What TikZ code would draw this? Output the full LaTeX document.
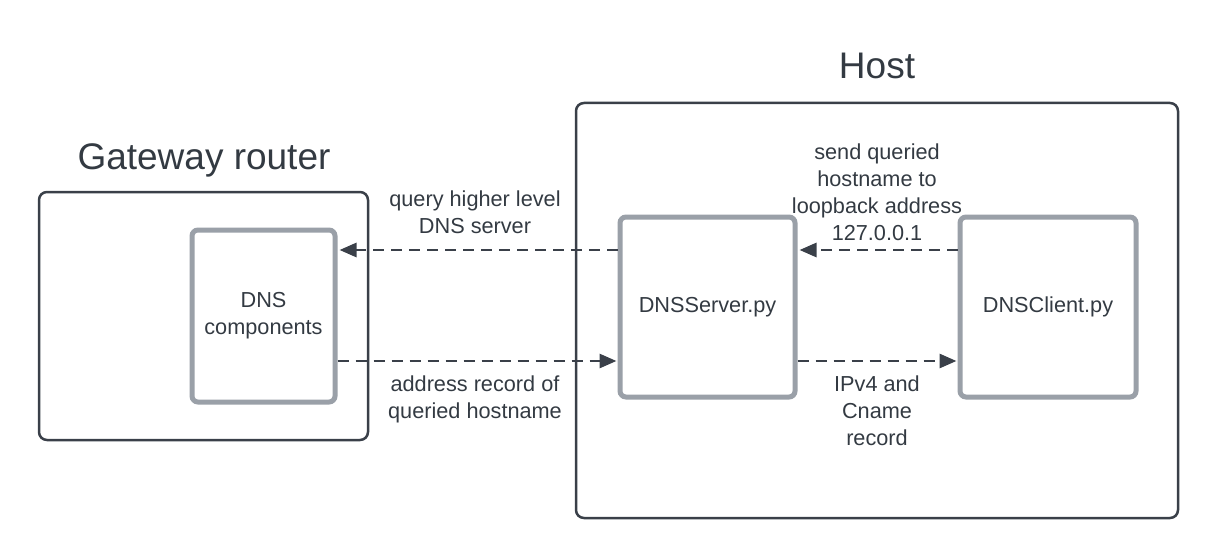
\documentclass[tikz,border=0pt]{standalone}
\usepackage{fontspec}
\setmainfont{Liberation Sans}
\usetikzlibrary{arrows.meta}
\definecolor{edgedark}{HTML}{3A4049}
\definecolor{edgegray}{HTML}{9AA0A8}
\definecolor{txt}{HTML}{333A42}

\begin{document}
\begin{tikzpicture}[x=1pt,y=-1pt,
  outerbox/.style={draw=edgedark,line width=2.5pt,rounded corners=8pt},
  compbox/.style={draw=edgegray,line width=5pt,rounded corners=6pt,text=txt,
    font=\fontsize{21.7}{27}\selectfont,align=center},
  title/.style={text=txt,font=\fontsize{37}{40}\selectfont},
  lbl/.style={text=txt,font=\fontsize{21.7}{27}\selectfont,align=center},
  flow/.style={draw=edgedark,line width=2.8pt,dash pattern=on 11pt off 7pt,
    -{Triangle[length=17pt,width=14pt]}}]
\useasboundingbox (0,0) rectangle (1218,559);
\node[outerbox,minimum width=329pt,minimum height=248pt] (gw) at (203.5,316) {};
\node[outerbox,minimum width=602pt,minimum height=415pt] (host) at (877,310.5) {};
\node[title] (gwtitle) at (204,160) {Gateway router};
\node[title] (hosttitle) at (877,66) {Host};
\node[compbox,minimum width=143pt,minimum height=172pt] (comp) at (263.5,316) {DNS\\components};
\node[compbox,minimum width=175pt,minimum height=180pt] (server) at (707.5,307) {DNSServer.py};
\node[compbox,minimum width=176pt,minimum height=180pt] (client) at (1048,307) {DNSClient.py};
\coordinate (up) at (0,250);
\coordinate (down) at (0,361);
\draw[flow] (server.west |- up) -- ([xshift=2pt]comp.east |- up);
\draw[flow] (comp.east |- down) -- ([xshift=-1pt]server.west |- down);
\draw[flow] (client.west |- up) -- ([xshift=2pt]server.east |- up);
\draw[flow] (server.east |- down) -- ([xshift=-1pt]client.west |- down);
\node[lbl] (qlbl) at (475,212) {query higher level\\DNS server};
\node[lbl] (albl) at (475,399) {address record of\\queried hostname};
\node[lbl] (slbl) at (877,192) {send queried\\hostname to\\loopback address\\127.0.0.1};
\node[lbl] (rlbl) at (877,411) {IPv4 and\\Cname\\record};
\end{tikzpicture}
\end{document}
